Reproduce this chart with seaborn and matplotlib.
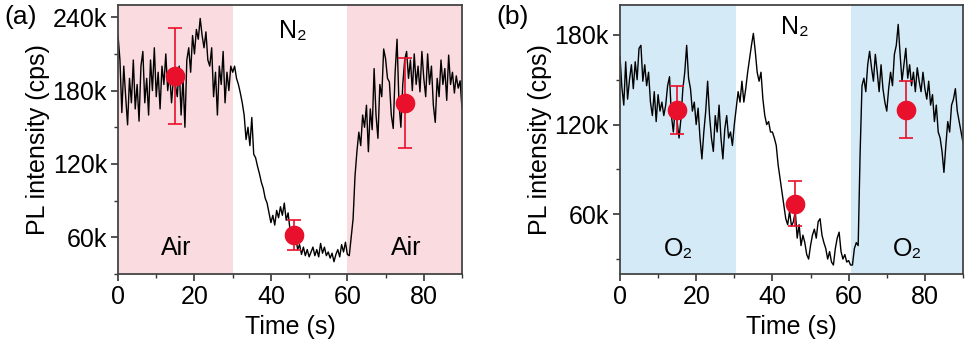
import numpy as np
import matplotlib
matplotlib.use("Agg")
import matplotlib.pyplot as plt
from matplotlib.ticker import MultipleLocator, FuncFormatter
import seaborn as sns

# time grid of the recorded traces (s)
time = np.arange(0, 90.01, 0.5)

# PL trace (k cps), panel (a): Air / N2 / Air
pl_air = [225, 205, 162, 200, 175, 152, 190, 170, 205, 165, 185,
          155, 200, 212, 170, 190, 160, 205, 180, 215, 175,
          195, 165, 200, 185, 210, 180, 195, 170, 190, 185,
          175, 200, 160, 190, 150, 205, 215, 195, 225, 210,
          230, 222, 239, 225, 215, 228, 205, 200, 215, 175,
          195, 160, 200, 185, 212, 170, 195, 180, 200, 195,
          200, 190, 185, 178, 170, 160, 140, 150, 135, 158,
          128, 125, 118, 112, 105, 100, 92, 88, 80, 72,
          78, 70, 82, 76, 85, 78, 88, 74, 80, 66,
          58, 55, 60, 50, 54, 46, 52, 45, 50, 44,
          48, 52, 45, 50, 44, 55, 47, 52, 45, 48,
          43, 47, 40, 46, 50, 44, 54, 48, 56, 46,
          45, 60, 75, 110, 130, 146, 135, 160, 150, 168,
          130, 165, 148, 198, 160, 141, 185, 175, 214, 206,
          190, 187, 160, 149, 195, 222, 170, 150, 185, 205,
          212, 190, 205, 180, 210, 185, 200, 179, 212, 190,
          175, 210, 185, 200, 168, 154, 190, 175, 205, 185,
          198, 172, 209, 185, 195, 178, 192, 182, 188, 165]

# PL trace (k cps), panel (b): O2 / N2 / O2
pl_o2 = [166, 145, 133, 162, 137, 150, 160, 144, 162, 150, 171,
         173, 149, 160, 146, 155, 135, 126, 142, 122, 140,
         129, 135, 126, 133, 146, 152, 126, 115, 131, 122,
         111, 124, 144, 155, 173, 151, 144, 129, 135, 120,
         131, 111, 97, 115, 129, 149, 126, 111, 102, 126,
         115, 133, 111, 97, 117, 126, 111, 115, 106, 120,
         131, 142, 135, 149, 135, 144, 155, 164, 173, 181,
         169, 155, 149, 155, 137, 126, 120, 122, 115, 115,
         111, 106, 93, 84, 75, 66, 57, 53, 62, 52,
         55, 62, 44, 53, 39, 46, 41, 33, 30, 39,
         46, 50, 44, 55, 57, 46, 41, 37, 30, 35,
         28, 26, 37, 44, 48, 35, 30, 33, 28, 29,
         26, 26, 37, 41, 39, 100, 146, 151, 142, 160,
         169, 158, 149, 167, 155, 142, 160, 144, 135, 129,
         144, 155, 146, 167, 173, 187, 167, 149, 160, 171,
         151, 160, 146, 155, 142, 158, 149, 142, 155, 144,
         137, 149, 133, 140, 122, 133, 115, 111, 102, 88,
         106, 122, 115, 133, 137, 144, 129, 122, 115, 108]

# averaged points with error bars (k cps)
pt_time_a = [15, 46, 75]
pt_mean_a = [192, 62, 170]
pt_err_a = [39, 12, 37]

pt_time_b = [15, 46, 75]
pt_mean_b = [130, 67, 130]
pt_err_b = [16, 15, 19]

gas_a = ["Air", "N\u2082", "Air"]
gas_b = ["O\u2082", "N\u2082", "O\u2082"]

sns.set_theme(style="ticks")
plt.rcParams["font.family"] = ["Liberation Sans", "DejaVu Sans"]
for key in ["text.color", "axes.labelcolor", "xtick.labelcolor", "ytick.labelcolor"]:
    plt.rcParams[key] = "black"
fs = 18

fig = plt.figure(figsize=(9.69, 3.49), dpi=100)
ax_a = fig.add_axes([0.1218, 0.2149, 0.355, 0.7708])
ax_b = fig.add_axes([0.6398, 0.2149, 0.354, 0.7708])

red = "#e8102a"
kfmt = FuncFormatter(lambda v, p: f"{int(round(v))}k")

panels = [
    (ax_a, pl_air, pt_time_a, pt_mean_a, pt_err_a, gas_a, "#f9dbe0", (30, 60),
     (30, 250), 229, 51, "(a)", 0.004),
    (ax_b, pl_o2, pt_time_b, pt_mean_b, pt_err_b, gas_b, "#d5eaf7", (30.4, 60.5),
     (20, 200), 185, 37, "(b)", 0.512),
]

for ax, trace, pt_t, pt_m, pt_e, gases, shade, edges, ylim, ytop, ybot, tag, tagx in panels:
    ax.axvspan(0, edges[0], color=shade, lw=0, zorder=0)
    ax.axvspan(edges[1], 90, color=shade, lw=0, zorder=0)
    sns.lineplot(x=time, y=trace, ax=ax, color="black", lw=1.0, sort=False,
                 estimator=None, zorder=2)
    ax.errorbar(pt_t, pt_m, yerr=pt_e, fmt="none", ecolor=red, elinewidth=1.2,
                capsize=5, capthick=1.2, zorder=3)
    sns.scatterplot(x=pt_t, y=pt_m, ax=ax, color=red, s=200, edgecolor=red,
                    linewidth=0, zorder=4)
    ax.set_xlim(0, 90)
    ax.set_ylim(*ylim)
    ax.xaxis.set_major_locator(MultipleLocator(20))
    ax.xaxis.set_minor_locator(MultipleLocator(10))
    ax.yaxis.set_major_locator(MultipleLocator(60))
    ax.yaxis.set_minor_locator(MultipleLocator(30))
    ax.yaxis.set_major_formatter(kfmt)
    ax.tick_params(axis="both", which="major", labelsize=fs, length=5, width=1.2,
                   color="#333333", pad=3, direction="out")
    ax.tick_params(axis="both", which="minor", length=3, width=1.0, color="#333333")
    for sp in ax.spines.values():
        sp.set_color("#444444")
        sp.set_linewidth(1.3)
    ax.set_xlabel("Time (s)", fontsize=fs, labelpad=4)
    ax.set_ylabel("PL intensity (cps)", fontsize=fs, labelpad=2)
    ax.text(15.3, ybot, gases[0], fontsize=fs, ha="center", va="center")
    ax.text(45.8, ytop, gases[1], fontsize=fs, ha="center", va="center")
    ax.text(75.5, ybot, gases[2], fontsize=fs, ha="center", va="center")
    fig.text(tagx, 0.952, tag, fontsize=fs + 1, ha="left", va="center")

fig.savefig("out.png", dpi=100)
